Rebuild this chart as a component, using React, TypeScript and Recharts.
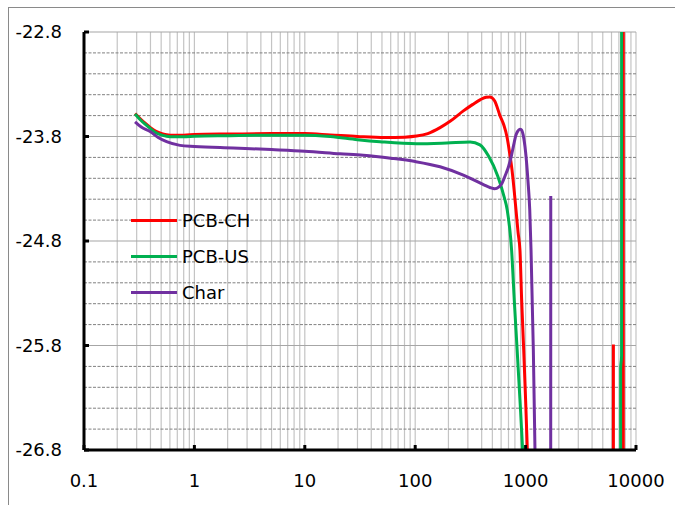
import React from 'react';
import { LineChart, Line, XAxis, YAxis, CartesianGrid } from 'recharts';

// Axis ticks / labels
const xTicks = [0.1, 1, 10, 100, 1000, 10000];
const yTicks = [-26.8, -25.8, -24.8, -23.8, -22.8];
const xGridValues = [
  0.1, 0.2, 0.3, 0.4, 0.5, 0.6, 0.7, 0.8, 0.9,
  1, 2, 3, 4, 5, 6, 7, 8, 9,
  10, 20, 30, 40, 50, 60, 70, 80, 90,
  100, 200, 300, 400, 500, 600, 700, 800, 900,
  1000, 2000, 3000, 4000, 5000, 6000, 7000, 8000, 9000, 10000,
];
const yMajorGrid = [-25.8, -24.8, -23.8, -22.8];
const yMinorGrid = [
  -26.6, -26.4, -26.2, -26.0, -25.6, -25.4, -25.2, -25.0,
  -24.6, -24.4, -24.2, -24.0, -23.6, -23.4, -23.2, -23.0,
];

// Series names and colours
const seriesNames = ['PCB-CH', 'PCB-US', 'Char'];
const seriesColors = ['#ff0000', '#00b050', '#7030a0'];

// Series data: [frequency, value]
const pcbCH: [number, number][] = [
  [0.29, -23.58], [0.32, -23.625], [0.36, -23.675], [0.4, -23.715], [0.45, -23.75],
  [0.5, -23.77], [0.56, -23.782], [0.65, -23.787], [0.8, -23.787], [1, -23.782],
  [2, -23.776], [5, -23.772], [10, -23.772], [17, -23.785], [30, -23.8], [53, -23.81],
  [80, -23.806], [103, -23.796], [130, -23.772], [168, -23.715], [210, -23.65],
  [273, -23.555], [330, -23.495], [390, -23.447], [440, -23.424], [475, -23.422],
  [525, -23.46], [586, -23.6], [635, -23.69], [677, -23.8], [715, -23.95], [753, -24.12],
  [790, -24.33], [818, -24.5], [855, -24.72], [889, -24.89], [921, -25.365],
  [961, -25.84], [1000, -26.32], [1037, -26.8], [1100, -27.8], [1200, -40],
  [6230, -40], [6240, -25.79], [6250, -40], [7670, -40], [7680, -15],
];
const pcbUS: [number, number][] = [
  [0.29, -23.585], [0.32, -23.635], [0.36, -23.685], [0.4, -23.725], [0.45, -23.765],
  [0.5, -23.785], [0.56, -23.797], [0.65, -23.802], [0.8, -23.802], [1, -23.797],
  [2, -23.792], [5, -23.787], [10, -23.787], [17, -23.8], [30, -23.83], [48, -23.85],
  [103, -23.87], [193, -23.862], [315, -23.852], [386, -23.88], [463, -23.99],
  [560, -24.18], [640, -24.38], [681, -24.5], [747, -24.89], [790, -25.37],
  [838, -25.84], [889, -26.32], [940, -26.8], [1000, -27.5], [1100, -40],
  [7250, -40], [7260, -26.02], [7400, -25.9], [7420, -15],
];
const charData: [number, number][] = [
  [0.29, -23.66], [0.33, -23.71], [0.4, -23.755], [0.47, -23.81], [0.56, -23.85],
  [0.74, -23.885], [1, -23.895], [2.24, -23.91], [5, -23.925], [10, -23.94],
  [20.8, -23.965], [33.9, -23.98], [60, -24.008], [100, -24.04], [168, -24.09],
  [273, -24.17], [415, -24.26], [480, -24.29], [525, -24.3], [570, -24.285],
  [610, -24.25], [650, -24.18], [700, -24.09], [745, -23.98], [780, -23.88],
  [818, -23.785], [850, -23.748], [889, -23.73], [920, -23.738], [950, -23.785],
  [1000, -23.95], [1050, -24.22], [1090, -24.5], [1120, -24.89], [1175, -25.84],
  [1216, -26.8], [1260, -27.5], [1300, -40], [1680, -40], [1690, -24.37],
];

const allSeries = [pcbCH, pcbUS, charData].map((s) => s.map(([f, v]) => ({ f, v })));

const FONT = 'DejaVu Sans';

export default function App() {
  return (
    <div style={{ position: 'absolute', left: 0, top: 0, width: 675, height: 505, background: '#fff', overflow: 'hidden' }}>
      <div
        style={{
          position: 'absolute', left: 8, top: 7, width: 667, height: 498,
          borderTop: '1px solid #8a8a8a', borderLeft: '1px solid #8a8a8a', boxSizing: 'border-box',
        }}
      />
      <div style={{ position: 'absolute', left: 0, top: 0 }}>
        <LineChart width={675} height={505} margin={{ top: 32, right: 39, bottom: 0, left: 8 }}>
          <CartesianGrid
            horizontal={false}
            vertical
            verticalValues={xGridValues}
            stroke="#c4c4c4"
            strokeWidth={1.2}
          />
          <CartesianGrid
            vertical={false}
            horizontal
            horizontalValues={yMinorGrid}
            stroke="#808080"
            strokeDasharray="3 1.5"
          />
          <CartesianGrid
            vertical={false}
            horizontal
            horizontalValues={yMajorGrid}
            stroke="#a6a6a6"
            strokeWidth={1.2}
          />
          <XAxis
            dataKey="f"
            type="number"
            scale="log"
            domain={[0.1, 10000]}
            allowDataOverflow
            ticks={xTicks}
            tickFormatter={(v: number) => String(v)}
            height={55}
            axisLine={{ stroke: '#000', strokeWidth: 3 }}
            tickLine={{ stroke: '#000', strokeWidth: 3 }}
            tickSize={-5}
            tickMargin={29}
            tick={{ fontFamily: FONT, fontSize: 18, fill: '#000' }}
            interval={0}
          />
          <YAxis
            dataKey="v"
            type="number"
            domain={[-26.8, -22.8]}
            allowDataOverflow
            ticks={yTicks}
            tickFormatter={(v: number) => v.toFixed(1)}
            width={76}
            axisLine={{ stroke: '#000', strokeWidth: 3 }}
            tickLine={{ stroke: '#000', strokeWidth: 3 }}
            tickSize={-5}
            tickMargin={27}
            tick={{ fontFamily: FONT, fontSize: 18, fill: '#000' }}
            interval={0}
          />
          {allSeries.map((d, i) => (
            <Line
              key={seriesNames[i]}
              data={d}
              dataKey="v"
              name={seriesNames[i]}
              type="monotone"
              stroke={seriesColors[i]}
              strokeWidth={3}
              dot={false}
              activeDot={false}
              isAnimationActive={false}
            />
          ))}
        </LineChart>
      </div>
      {seriesNames.map((name, i) => (
        <div
          key={name}
          style={{
            position: 'absolute', left: 131, top: 220 + i * 36 - 12, height: 24,
            display: 'flex', alignItems: 'center', fontFamily: FONT, fontSize: 18, color: '#000',
          }}
        >
          <div style={{ width: 46, height: 3, background: seriesColors[i], marginRight: 5 }} />
          <span>{name}</span>
        </div>
      ))}
    </div>
  );
}
